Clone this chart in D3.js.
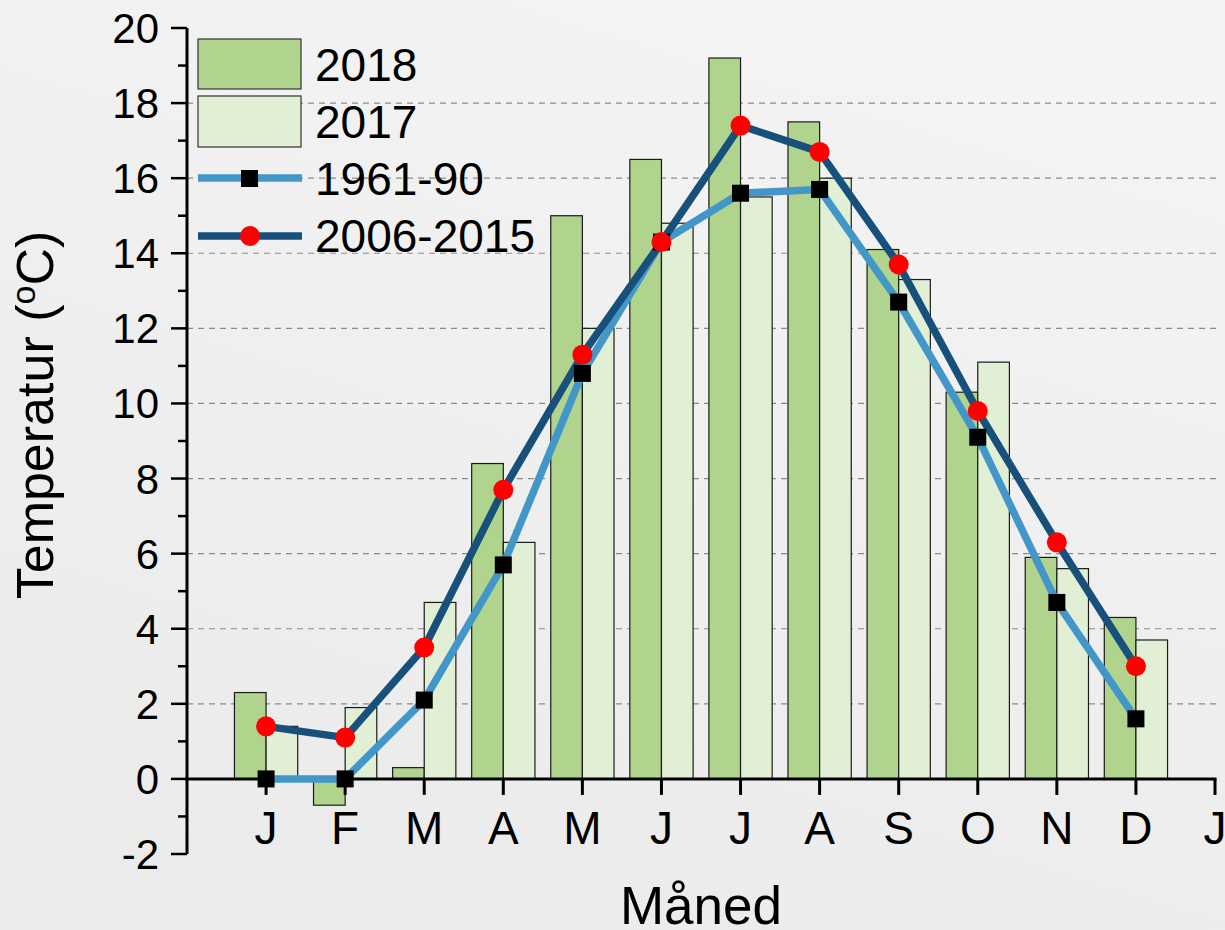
<!DOCTYPE html>
<html><head><meta charset="utf-8">
<script src="https://cdn.jsdelivr.net/npm/d3@7"></script>
<style>html,body{margin:0;padding:0;background:#ededed;}svg{display:block;}</style>
</head><body>
<script>
const months = ["J","F","M","A","M","J","J","A","S","O","N","D","J"];
const v2018 = [2.3,-0.7,0.3,8.4,15.0,16.5,19.2,17.5,14.1,10.3,5.9,4.3];
const v2017 = [1.4,1.9,4.7,6.3,12.0,14.8,15.5,16.0,13.3,11.1,5.6,3.7];
const v6190 = [0,0,2.1,5.7,10.8,14.3,15.6,15.7,12.7,9.1,4.7,1.6];
const v0615 = [1.4,1.1,3.5,7.7,11.3,14.3,17.4,16.7,13.7,9.8,6.3,3.0];
const yTicks = [-2,0,2,4,6,8,10,12,14,16,18,20];
const seriesNames = ["2018","2017","1961-90","2006-2015"];

const W=1225,H=930;
const svg=d3.select("body").append("svg").attr("width",W).attr("height",H);
const defs=svg.append("defs");
const g1=defs.append("linearGradient").attr("id","bg").attr("x1","0.7").attr("y1","0").attr("x2","0.3").attr("y2","1");
g1.append("stop").attr("offset","0").attr("stop-color","#f4f4f4");
g1.append("stop").attr("offset","0.5").attr("stop-color","#efefef");
g1.append("stop").attr("offset","1").attr("stop-color","#ebebeb");
svg.append("rect").attr("width",W).attr("height",H).attr("fill","url(#bg)");

const x=d3.scaleLinear().domain([0,13]).range([187,1215]);
const y=d3.scaleLinear().domain([-2,20]).range([854,28]);
const bw=x(0.4)-x(0);
const font="'Liberation Sans', Arial, sans-serif";

// grid
svg.append("g").selectAll("line").data(yTicks.filter(d=>d>0&&d<20)).join("line")
 .attr("x1",x(0)).attr("x2",1217).attr("y1",d=>y(d)).attr("y2",d=>y(d))
 .attr("stroke","#8a8a8a").attr("stroke-width",1.2).attr("stroke-dasharray","6,5");

// bars
const bars=svg.append("g");
bars.selectAll(".b18").data(v2018).join("rect")
 .attr("x",(d,i)=>x(i+1)-bw).attr("width",bw)
 .attr("y",d=>y(Math.max(0,d))).attr("height",d=>Math.abs(y(d)-y(0)))
 .attr("fill","#b0d38e").attr("stroke","#1a1a1a").attr("stroke-width",1.2);
bars.selectAll(".b17").data(v2017).join("rect")
 .attr("x",(d,i)=>x(i+1)).attr("width",bw)
 .attr("y",d=>y(Math.max(0,d))).attr("height",d=>Math.abs(y(d)-y(0)))
 .attr("fill","#e1efd5").attr("stroke","#1a1a1a").attr("stroke-width",1.2);

// axes
const ax=svg.append("g").attr("stroke","#000").attr("fill","none");
ax.append("line").attr("x1",x(0)).attr("x2",x(0)).attr("y1",y(20)).attr("y2",y(-2)).attr("stroke-width",3);
ax.append("line").attr("x1",x(0)-2).attr("x2",x(13)+1.5).attr("y1",y(0)).attr("y2",y(0)).attr("stroke-width",3);
ax.selectAll(".ym").data(yTicks).join("line").attr("x1",x(0)-16).attr("x2",x(0)).attr("y1",d=>y(d)).attr("y2",d=>y(d)).attr("stroke-width",2.5);
ax.selectAll(".yn").data(d3.range(-1,20,2)).join("line").attr("x1",x(0)-9).attr("x2",x(0)).attr("y1",d=>y(d)).attr("y2",d=>y(d)).attr("stroke-width",2.5);
ax.selectAll(".xt").data(d3.range(1,14)).join("line").attr("x1",d=>x(d)).attr("x2",d=>x(d)).attr("y1",y(0)).attr("y2",y(0)+16).attr("stroke-width",3);

// tick labels
svg.append("g").selectAll("text").data(yTicks).join("text")
 .attr("x",159).attr("y",d=>y(d)+15)
 .attr("text-anchor","end").attr("font-family",font).attr("font-size",42).attr("fill","#000").text(d=>d);
svg.append("g").selectAll("text").data(months).join("text")
 .attr("x",(d,i)=>x(i+1)).attr("y",844).attr("text-anchor","middle")
 .attr("font-family",font).attr("font-size",46).attr("fill","#000").text(d=>d);

// axis titles
const yt=svg.append("text").attr("transform","translate(53,415) rotate(-90)")
 .attr("text-anchor","middle").attr("font-family",font).attr("font-size",52).attr("fill","#000");
yt.append("tspan").text("Temperatur (");
yt.append("tspan").attr("font-size",34).attr("dy",-18).text("o");
yt.append("tspan").attr("dy",18).text("C)");
svg.append("text").attr("x",701).attr("y",924).attr("text-anchor","middle").attr("font-family",font).attr("font-size",53).attr("fill","#000").text("Måned");

// lines
const line=d3.line().x((d,i)=>x(i+1)).y(d=>y(d));
svg.append("path").datum(v6190).attr("d",line).attr("fill","none").attr("stroke","#4396c8").attr("stroke-width",7.5).attr("stroke-linejoin","round");
svg.append("path").datum(v0615).attr("d",line).attr("fill","none").attr("stroke","#17507a").attr("stroke-width",7.5).attr("stroke-linejoin","round");
const ms=17;
svg.append("g").selectAll("rect").data(v6190).join("rect")
 .attr("x",(d,i)=>x(i+1)-ms/2).attr("y",d=>y(d)-ms/2).attr("width",ms).attr("height",ms).attr("fill","#000");
svg.append("g").selectAll("circle").data(v0615).join("circle")
 .attr("cx",(d,i)=>x(i+1)).attr("cy",d=>y(d)).attr("r",10).attr("fill","#ff0000");

// legend
const lg=svg.append("g");
lg.append("rect").attr("x",198).attr("y",39).attr("width",103).attr("height",50).attr("fill","#b0d38e").attr("stroke","#333").attr("stroke-width",1.2);
lg.append("rect").attr("x",198).attr("y",96).attr("width",103).attr("height",51).attr("fill","#e1efd5").attr("stroke","#333").attr("stroke-width",1.2);
lg.append("line").attr("x1",198).attr("x2",302).attr("y1",178).attr("y2",178).attr("stroke","#4396c8").attr("stroke-width",7.5);
lg.append("rect").attr("x",241).attr("y",170).attr("width",17).attr("height",17).attr("fill","#000");
lg.append("line").attr("x1",198).attr("x2",302).attr("y1",236).attr("y2",236).attr("stroke","#17507a").attr("stroke-width",7.5);
lg.append("circle").attr("cx",250).attr("cy",236).attr("r",10).attr("fill","#ff0000");
lg.selectAll("text").data(seriesNames).join("text")
 .attr("x",315).attr("y",(d,i)=>[81,138,195,252][i])
 .attr("font-family",font).attr("font-size",46).attr("fill","#000").text(d=>d);
</script>
</body></html>
